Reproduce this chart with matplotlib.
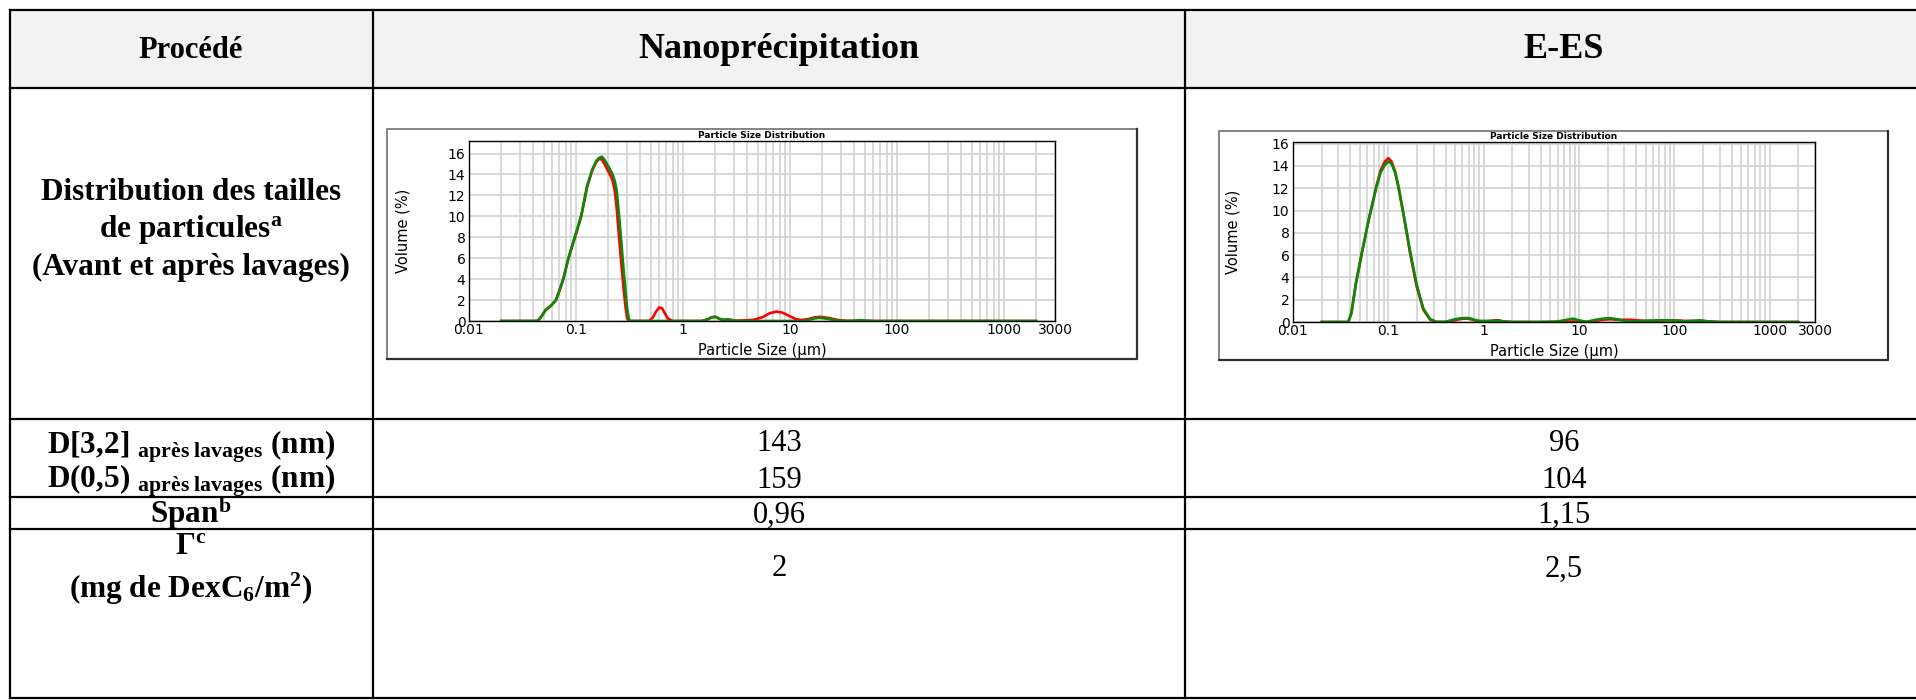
import matplotlib
matplotlib.use("Agg")
import matplotlib.pyplot as plt
from matplotlib.patches import Rectangle
from matplotlib.lines import Line2D
from matplotlib.ticker import FixedLocator, NullFormatter

plt.rcParams["mathtext.fontset"] = "custom"
plt.rcParams["mathtext.rm"] = "Liberation Serif"
plt.rcParams["mathtext.bf"] = "Liberation Serif:bold"
plt.rcParams["mathtext.it"] = "Liberation Serif:italic"

# Nanoprécipitation : courbes granulométriques (rouge = avant, vert = après lavages)
np_taille = [0.02, 0.03, 0.04, 0.044, 0.048, 0.052, 0.056, 0.06, 0.065, 0.07,
             0.0765, 0.085, 0.1, 0.112, 0.127, 0.142, 0.155, 0.165, 0.175, 0.185,
             0.2, 0.21, 0.22, 0.23, 0.24, 0.25, 0.26, 0.27, 0.28, 0.29,
             0.30, 0.31, 0.32, 0.34, 0.4, 0.48, 0.52, 0.56, 0.6, 0.64,
             0.68, 0.72, 0.8, 1.0, 1.5, 1.7, 1.85, 2.0, 2.2, 2.4,
             2.6, 2.8, 3.1, 3.5, 4.5, 5.5, 6.5, 7.5, 8.5, 10,
             11.5, 13, 15, 17, 19, 21, 24, 28, 33, 38,
             44, 50, 60, 100, 1000, 2000]
np_avant = [0, 0, 0, 0.02, 0.5, 1.05, 1.3, 1.6, 2.0, 2.9,
            4.1, 6.0, 8.3, 10.0, 12.8, 14.4, 15.2, 15.5, 15.4, 15.0,
            14.3, 13.9, 13.4, 12.5, 10.8, 8.6, 6.5, 4.6, 2.9, 1.4,
            0.3, 0.05, 0, 0, 0, 0, 0.3, 0.9, 1.3, 1.2,
            0.7, 0.25, 0, 0, 0, 0.15, 0.35, 0.4, 0.2, 0.1,
            0.15, 0.1, 0.03, 0.05, 0.1, 0.35, 0.75, 0.9, 0.8, 0.45,
            0.15, 0.1, 0.2, 0.35, 0.4, 0.35, 0.25, 0.1, 0.03, 0,
            0, 0, 0, 0, 0, 0]
np_apres = [0, 0, 0, 0.02, 0.5, 1.05, 1.3, 1.6, 2.0, 2.9,
            4.1, 6.0, 8.4, 10.1, 12.9, 14.5, 15.3, 15.6, 15.7, 15.4,
            14.8, 14.4, 14.0, 13.4, 12.5, 10.6, 8.6, 6.6, 4.6, 2.9,
            1.3, 0.3, 0, 0, 0, 0, 0, 0, 0, 0,
            0, 0, 0, 0, 0, 0.15, 0.35, 0.4, 0.2, 0.1,
            0.15, 0.1, 0.02, 0, 0, 0, 0, 0, 0, 0,
            0, 0, 0.1, 0.25, 0.3, 0.25, 0.15, 0.05, 0, 0.02,
            0.08, 0.05, 0, 0, 0, 0]

# E-ES
ees_taille = [0.02, 0.03, 0.038, 0.041, 0.0458, 0.0528, 0.062, 0.0745, 0.083, 0.092,
              0.1, 0.108, 0.118, 0.128, 0.148, 0.169, 0.198, 0.233, 0.275, 0.32,
              0.4, 0.5, 0.6, 0.7, 0.8, 0.9, 1.1, 1.3, 1.45, 1.6,
              2, 4, 6, 7.5, 8.7, 10, 12, 15, 18, 21,
              25, 30, 35, 40, 50, 65, 80, 100, 130, 160,
              190, 230, 300, 1000, 2000]
ees_avant = [0, 0, 0, 0.8, 3.5, 6.2, 9.1, 12.1, 13.6, 14.4,
             14.7, 14.4, 13.5, 12.1, 9.1, 6.2, 3.2, 1.1, 0.2, 0,
             0, 0.15, 0.3, 0.3, 0.15, 0.03, 0.05, 0.15, 0.15, 0.05,
             0, 0, 0, 0, 0.05, 0.02, 0, 0.1, 0.2, 0.25,
             0.2, 0.2, 0.2, 0.15, 0.1, 0.1, 0.15, 0.15, 0.1, 0.1,
             0.1, 0.05, 0, 0, 0]
ees_apres = [0, 0, 0, 0.8, 3.5, 6.2, 9.1, 12.0, 13.4, 14.1,
             14.4, 14.2, 13.4, 12.1, 9.2, 6.4, 3.4, 1.2, 0.25, 0.02,
             0.02, 0.25, 0.35, 0.35, 0.2, 0.1, 0.1, 0.1, 0.1, 0.05,
             0, 0, 0.05, 0.2, 0.3, 0.15, 0.02, 0.2, 0.3, 0.35,
             0.25, 0.1, 0.05, 0.05, 0.1, 0.15, 0.15, 0.15, 0.05, 0.1,
             0.15, 0.05, 0, 0, 0]

procedes = ["Nanoprécipitation", "E-ES"]
d32 = ["143", "96"]
d05 = ["159", "104"]
span = ["0,96", "1,15"]
gamma = ["2", "2,5"]

x_labels = ["0.01", "0.1", "1", "10", "100", "1000", "3000"]
x_label_pos = [0.01, 0.1, 1, 10, 100, 1000, 3000]

W, H = 1916, 700
fig = plt.figure(figsize=(W / 100, H / 100), dpi=100)


def fx(px):
    return px / W


def fy(py):
    return 1 - py / H


# --- tableau ---
lignes_h = [10, 88, 419, 497, 529, 698]
cols_v = [10, 373, 1185]
fig.patches.append(Rectangle((fx(10), fy(88)), fx(W - 10), (88 - 10) / H,
                             transform=fig.transFigure, facecolor="#f2f2f2",
                             edgecolor="none", zorder=0))
for y in lignes_h:
    fig.add_artist(Line2D([fx(10), 1], [fy(y), fy(y)], color="black", lw=1.6))
for x in cols_v:
    fig.add_artist(Line2D([fx(x), fx(x)], [fy(10), fy(698)], color="black", lw=1.6))

serif = "Liberation Serif"
col_c = [779, 1564]


def txt(x, y, s, size=22.5, weight="bold"):
    fig.text(fx(x), fy(y), s, ha="center", va="center", family=serif,
             fontsize=size, weight=weight)


txt(191, 50, "Procédé", 22)
for c, p in zip(col_c, procedes):
    txt(c, 50, p, 26)

txt(191, 193, "Distribution des tailles")
txt(191, 230, r"de particules$^{\mathbf{a}}$")
txt(191, 267, "(Avant et après lavages)")
txt(191, 447, r"D[3,2] $_{\mathbf{après\ lavages}}$ (nm)")
txt(191, 481, r"D(0,5) $_{\mathbf{après\ lavages}}$ (nm)")
txt(191, 514, r"Span$^{\mathbf{b}}$")
txt(191, 547, r"Γ$^{\mathbf{c}}$")
txt(191, 589, r"(mg de DexC$_{\mathbf{6}}$/m$^{\mathbf{2}}$)")

for c, a, b, s, g in zip(col_c, d32, d05, span, gamma):
    txt(c, 444, a, 22, "normal")
    txt(c, 481, b, 22, "normal")
    txt(c, 515, s, 22, "normal")
    txt(c, 569, g, 22, "normal")

# --- graphes ---
grille_x = [m * 10.0 ** e for e in range(-2, 4) for m in range(1, 10) if m * 10.0 ** e <= 2000]


def graphe(cadre, boite, taille, avant, apres, ymax, ylab_droite):
    x0, y0, x1, y1 = cadre
    fig.patches.append(Rectangle((fx(x0), fy(y1)), (x1 - x0) / W, (y1 - y0) / H,
                                 transform=fig.transFigure, facecolor="white",
                                 edgecolor="#707070", lw=1.2, zorder=1))
    fig.add_artist(Line2D([fx(x0), fx(x1), fx(x1)], [fy(y1), fy(y1), fy(y0)],
                          color="#303030", lw=1.6, zorder=2))
    a0, b0, a1, b1 = boite
    ax = fig.add_axes([fx(a0), fy(b1), (a1 - a0) / W, (b1 - b0) / H], zorder=3)
    ax.set_xscale("log")
    ax.set_xlim(0.01, 3000)
    ax.set_ylim(0, ymax)
    ax.xaxis.set_major_locator(FixedLocator(x_label_pos))
    ax.set_xticklabels(x_labels)
    ax.xaxis.set_minor_locator(FixedLocator(grille_x))
    ax.xaxis.set_minor_formatter(NullFormatter())
    ax.set_yticks(range(0, 17, 2))
    ax.tick_params(which="both", length=0, labelsize=10, pad=2.5)
    ax.tick_params(axis="x", pad=1.5)
    ax.grid(which="both", color="#d0d0d0", lw=1.1)
    ax.set_axisbelow(True)
    for sp in ax.spines.values():
        sp.set_color("black")
        sp.set_linewidth(1.0)
    ax.plot(taille, avant, color="#ff0000", lw=1.9)
    ax.plot(taille, apres, color="#0a8a0a", lw=1.9)
    ax.set_title("Particle Size Distribution", fontsize=6.5, weight="bold", pad=2)
    ax.set_xlabel("Particle Size (µm)", fontsize=10.5)
    ax.set_ylabel("Volume (%)", fontsize=10.5)
    ax.xaxis.set_label_coords(0.5, -0.12)
    ax.yaxis.set_label_coords((ylab_droite - a0) / (a1 - a0), 0.5)
    return ax


graphe((387, 129, 1137, 359), (469, 141, 1055, 321), np_taille, np_avant, np_apres, 17.2, 410)
graphe((1219, 131, 1888, 360), (1293, 142, 1815, 322), ees_taille, ees_avant, ees_apres, 16.15, 1241)

fig.savefig("out.png", dpi=100, facecolor="white")
